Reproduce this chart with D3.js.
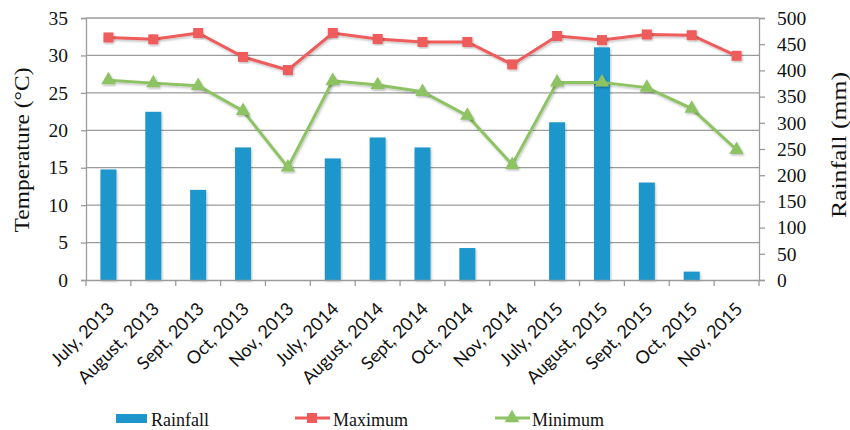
<!DOCTYPE html>
<html>
<head>
<meta charset="utf-8">
<script src="https://cdn.jsdelivr.net/npm/d3@7"></script>
<style>
  body { margin: 0; background: #fff; }
  svg { display: block; }
  .serif { font-family: "Liberation Serif", "DejaVu Serif", serif; }
</style>
</head>
<body>
<svg width="850" height="430"></svg>
<script>
// chart data
const months = ["July, 2013", "August, 2013", "Sept, 2013", "Oct, 2013", "Nov, 2013",
                "July, 2014", "August, 2014", "Sept, 2014", "Oct, 2014", "Nov, 2014",
                "July, 2015", "August, 2015", "Sept, 2015", "Oct, 2015", "Nov, 2015"];
const rainfall = [211, 321, 172, 253, 0, 232, 272, 253, 61, 0, 301, 444, 186, 16, 0];
const maxTemp = [32.4, 32.15, 33.0, 29.8, 28.05, 33.0, 32.2, 31.8, 31.8, 28.8, 32.6, 32.05, 32.8, 32.7, 29.95];
const minTemp = [26.7, 26.3, 25.95, 22.6, 15.05, 26.6, 26.05, 25.15, 21.95, 15.4, 26.4, 26.4, 25.7, 22.9, 17.4];
const tempTicks = [0, 5, 10, 15, 20, 25, 30, 35];
const rainTicks = [0, 50, 100, 150, 200, 250, 300, 350, 400, 450, 500];

const svg = d3.select("svg");
const margin = {top: 18, left: 86, right: 91, bottom: 150};
const w = 850, h = 430;
const plotBottom = h - margin.bottom; // 280

const x = d3.scaleBand().domain(months).range([margin.left, w - margin.right]);
const yT = d3.scaleLinear().domain([0, 35]).range([plotBottom, margin.top]);
const yR = d3.scaleLinear().domain([0, 500]).range([plotBottom, margin.top]);

const gridCol = "#9b9b9b";
const redCol = "#ef5b5b";
const greenCol = "#8dc363";
const blueCol = "#1f96cb";

// soft shadow like the office chart
const defs = svg.append("defs");
const f = defs.append("filter").attr("id", "shadow").attr("x", "-20%").attr("y", "-20%").attr("width", "140%").attr("height", "140%");
f.append("feDropShadow").attr("dx", 1).attr("dy", 1.5).attr("stdDeviation", 1.2).attr("flood-color", "#000").attr("flood-opacity", 0.25);

// gridlines
svg.append("g").selectAll("line")
  .data(tempTicks.slice(1))
  .enter().append("line")
  .attr("x1", margin.left).attr("x2", w - margin.right)
  .attr("y1", d => yT(d)).attr("y2", d => yT(d))
  .attr("stroke", gridCol).attr("stroke-width", 1.3);

// bars
svg.append("g").selectAll("rect")
  .data(rainfall)
  .enter().append("rect")
  .attr("x", (d, i) => x(months[i]) + x.bandwidth() / 2 - 8)
  .attr("width", 16)
  .attr("y", d => yR(d))
  .attr("height", d => plotBottom - yR(d))
  .attr("fill", blueCol)
  .attr("filter", "url(#shadow)");

// left axis
const leftAxis = svg.append("g")
  .attr("transform", "translate(" + margin.left + ",0)")
  .call(d3.axisLeft(yT).tickValues(tempTicks).tickSize(5).tickPadding(13));
// right axis
const rightAxis = svg.append("g")
  .attr("transform", "translate(" + (w - margin.right) + ",0)")
  .call(d3.axisRight(yR).tickValues(rainTicks).tickSize(6).tickPadding(12));
[leftAxis, rightAxis].forEach(a => {
  a.select(".domain").attr("stroke", gridCol).attr("stroke-width", 1.3);
  a.selectAll(".tick line").attr("stroke", gridCol).attr("stroke-width", 1.3);
  a.selectAll(".tick text").attr("class", "serif").style("font-size", "19.5px").attr("fill", "#111");
});

// bottom axis: ticks at category boundaries
const xAxis = svg.append("g")
  .attr("transform", "translate(0," + plotBottom + ")")
  .call(d3.axisBottom(x).tickSize(0));
xAxis.select(".domain").attr("stroke", gridCol).attr("stroke-width", 1.3);
xAxis.selectAll(".tick text")
  .style("font-family", "Lato, 'Open Sans', sans-serif")
  .style("font-size", "18px")
  .attr("fill", "#111")
  .attr("text-anchor", "end")
  .attr("x", 0).attr("y", 0).attr("dy", 0)
  .attr("transform", "translate(7,30) rotate(-45)");
svg.append("g").selectAll("line")
  .data(d3.range(months.length + 1))
  .enter().append("line")
  .attr("x1", i => margin.left + i * x.step()).attr("x2", i => margin.left + i * x.step())
  .attr("y1", plotBottom).attr("y2", plotBottom + 6)
  .attr("stroke", gridCol).attr("stroke-width", 1.3);

// lines
const lineMax = d3.line().x((d, i) => x(months[i]) + x.bandwidth() / 2).y(d => yT(d));
svg.append("path").datum(maxTemp)
  .attr("d", lineMax).attr("fill", "none")
  .attr("stroke", redCol).attr("stroke-width", 3).attr("filter", "url(#shadow)");
svg.append("path").datum(minTemp)
  .attr("d", lineMax).attr("fill", "none")
  .attr("stroke", greenCol).attr("stroke-width", 3).attr("filter", "url(#shadow)");

// markers
svg.append("g").selectAll("path")
  .data(maxTemp)
  .enter().append("path")
  .attr("d", d3.symbol().type(d3.symbolSquare).size(100))
  .attr("transform", (d, i) => "translate(" + (x(months[i]) + x.bandwidth() / 2) + "," + yT(d) + ")")
  .attr("fill", redCol).attr("filter", "url(#shadow)");
svg.append("g").selectAll("path")
  .data(minTemp)
  .enter().append("path")
  .attr("d", d3.symbol().type(d3.symbolTriangle).size(90))
  .attr("transform", (d, i) => "translate(" + (x(months[i]) + x.bandwidth() / 2) + "," + yT(d) + ")")
  .attr("fill", greenCol).attr("filter", "url(#shadow)");

// axis titles
svg.append("text").attr("class", "serif")
  .attr("transform", "translate(29,150) rotate(-90)")
  .attr("text-anchor", "middle").style("font-size", "22px").attr("fill", "#111")
  .attr("textLength", 165).attr("lengthAdjust", "spacingAndGlyphs")
  .text("Temperature (°C)");
svg.append("text").attr("class", "serif")
  .attr("transform", "translate(846,145) rotate(-90)")
  .attr("text-anchor", "middle").style("font-size", "22px").attr("fill", "#111")
  .attr("textLength", 146).attr("lengthAdjust", "spacingAndGlyphs")
  .text("Rainfall (mm)");

// legend
const legY = 418;
const leg = svg.append("g");
leg.append("rect").attr("x", 116).attr("y", legY - 4).attr("width", 31).attr("height", 9).attr("fill", blueCol);
leg.append("text").attr("class", "serif").attr("x", 151).attr("y", legY + 8).style("font-size", "18px").attr("fill", "#111").text("Rainfall");
leg.append("line").attr("x1", 295).attr("x2", 330).attr("y1", legY).attr("y2", legY).attr("stroke", redCol).attr("stroke-width", 3);
leg.append("path").attr("d", d3.symbol().type(d3.symbolSquare).size(100)).attr("transform", "translate(312," + legY + ")").attr("fill", redCol);
leg.append("text").attr("class", "serif").attr("x", 333).attr("y", legY + 8).style("font-size", "18px").attr("fill", "#111").text("Maximum");
leg.append("line").attr("x1", 495).attr("x2", 530).attr("y1", legY).attr("y2", legY).attr("stroke", greenCol).attr("stroke-width", 3);
leg.append("path").attr("d", d3.symbol().type(d3.symbolTriangle).size(90)).attr("transform", "translate(512," + legY + ")").attr("fill", greenCol);
leg.append("text").attr("class", "serif").attr("x", 532).attr("y", legY + 8).style("font-size", "18px").attr("fill", "#111").text("Minimum");
</script>
</body>
</html>
